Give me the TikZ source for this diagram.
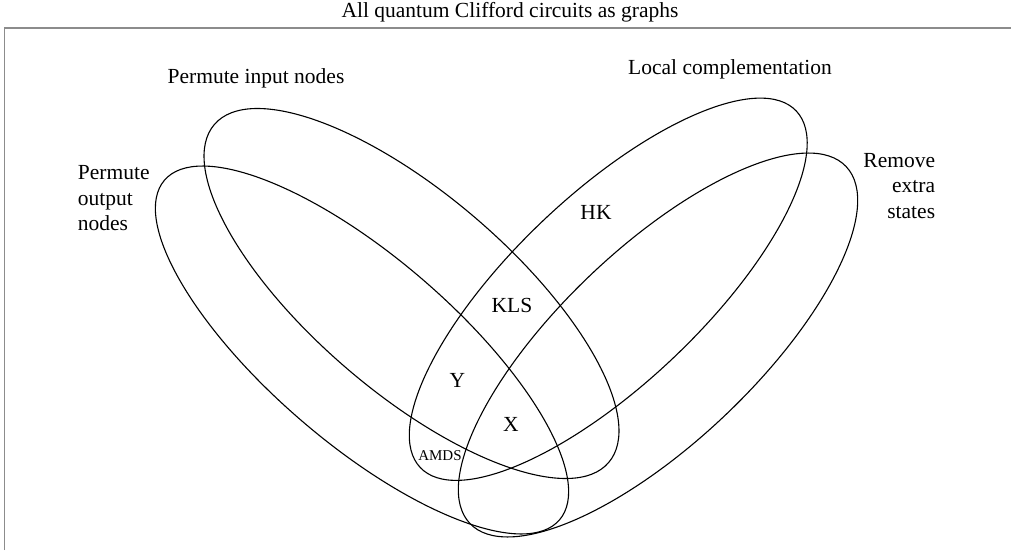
\documentclass[tikz,border=0pt]{standalone}
\usepackage{fontspec}
\setmainfont{Liberation Serif}
\begin{document}
\begin{tikzpicture}[x=1pt,y=1pt,
  venn/.style={draw=black, line width=1.1pt},
  frame/.style={draw=black!45, line width=1.6pt},
  lbl/.style={font=\fontsize{21.5}{25.6}\selectfont, inner sep=0pt},
  tiny/.style={font=\fontsize{15}{18}\selectfont, inner sep=0pt}]
\useasboundingbox (0,0) rectangle (1011,550);
% frame
\coordinate (fb) at (4.5,0);
\coordinate (fc) at (4.5,522);
\coordinate (fr) at (1011,522);
\draw[frame] (fb) -- (fc) -- (fr);
% ellipses
\draw[venn, shift={(411.5,256.5)}, rotate=-40.6] (0,0) ellipse [x radius=259.7pt, y radius=99pt];
\draw[venn, shift={(608.25,260.75)}, rotate=43.5] (0,0) ellipse [x radius=259.1pt, y radius=94.6pt];
\draw[venn, shift={(362,200)}, rotate=-40.7] (0,0) ellipse [x radius=260.5pt, y radius=93pt];
\draw[venn, shift={(658,205)}, rotate=43.5] (0,0) ellipse [x radius=259.3pt, y radius=97.2pt];
% labels
\node[lbl, anchor=base] (title) at (510,532) {All quantum Clifford circuits as graphs};
\node[lbl, anchor=base] (pin) at (256,466) {Permute input nodes};
\node[lbl, anchor=base] (lc) at (730,475) {Local complementation};
\node[lbl, anchor=base west, align=left] (pout) at (77.7,319.3) {Permute\\output\\nodes};
\node[lbl, anchor=base east, align=right] (rem) at (935.3,331.7) {Remove\\extra\\states};
\node[lbl, anchor=base] (hk) at (596,331) {HK};
\node[lbl, anchor=base] (kls) at (512,238) {KLS};
\node[lbl, anchor=base] (y) at (457.5,163) {Y};
\node[lbl, anchor=base] (xx) at (511,119) {X};
\node[tiny, anchor=base] (amds) at (440,90) {AMDS};
\end{tikzpicture}
\end{document}
